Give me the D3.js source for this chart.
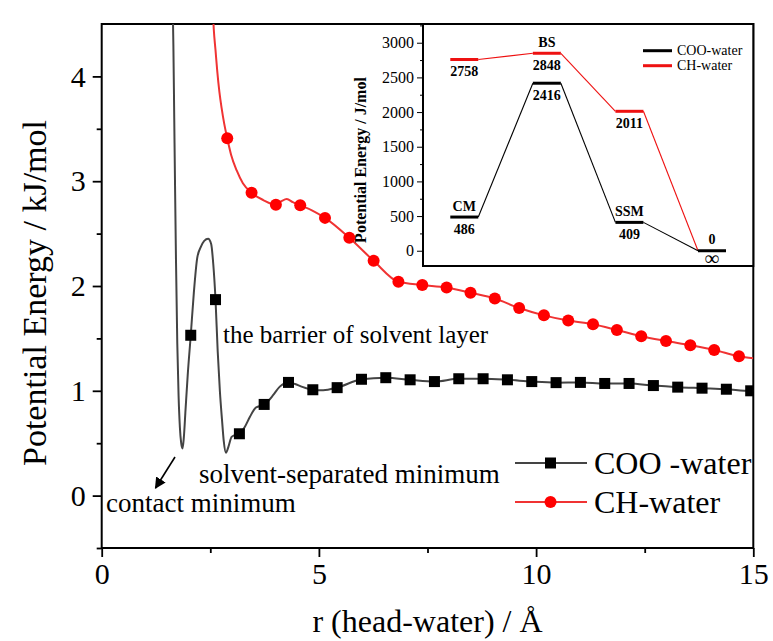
<!DOCTYPE html>
<html lang="en">
<head>
<meta charset="UTF-8">
<title>Potential Energy | D3</title>
<style>
  body { margin: 0; background: #fff; }
  svg { display: block; font-family: "Liberation Serif", "Times New Roman", serif; }
</style>
</head>
<body>
<div id="container"></div>
<script src="https://d3js.org/d3.v7.min.js"></script>
<script>
// main chart: COO-water curve (dense shape near the wells, then the marker points)
var cooLineR = [1.63, 1.65, 1.67, 1.69, 1.71, 1.74, 1.77, 1.80, 1.83, 1.86, 1.89, 1.93, 1.98, 2.05, 2.12, 2.20, 2.28, 2.36, 2.45, 2.52, 2.57, 2.62, 2.67, 2.72, 2.77, 2.81, 2.86, 2.92, 2.99, 3.08, 3.17, 3.30, 3.41, 3.55, 3.74, 3.85, 3.95, 4.10, 4.30, 4.45, 4.60, 4.86, 5.10, 5.42];
var cooLineE = [4.8, 4.3, 3.6, 2.9, 2.25, 1.45, 0.95, 0.65, 0.5, 0.45, 0.55, 0.82, 1.15, 1.53, 1.93, 2.27, 2.37, 2.43, 2.45, 2.40, 2.20, 1.87, 1.38, 1.0, 0.72, 0.52, 0.41, 0.47, 0.56, 0.58, 0.59, 0.66, 0.75, 0.84, 0.87, 0.91, 0.96, 1.04, 1.08, 1.065, 1.04, 1.01, 1.005, 1.03];
var cooMarkR = [2.05, 2.62, 3.17, 3.74, 4.30, 4.86, 5.42, 5.98, 6.54, 7.10, 7.66, 8.22, 8.78, 9.34, 9.90, 10.46, 11.02, 11.58, 12.14, 12.70, 13.26, 13.82, 14.38, 14.94];
var cooMarkE = [1.53, 1.87, 0.59, 0.87, 1.08, 1.01, 1.03, 1.11, 1.125, 1.105, 1.088, 1.115, 1.115, 1.105, 1.088, 1.078, 1.08, 1.07, 1.07, 1.05, 1.035, 1.025, 1.015, 1.0];

// CH-water curve
var chLineR = [2.55, 2.58, 2.62, 2.66, 2.71, 2.76, 2.82, 2.89, 2.98, 3.11, 3.25, 3.45, 3.72, 4.01, 4.14, 4.26, 4.40, 4.57, 4.85, 5.14];
var chLineE = [4.7, 4.45, 4.25, 4.05, 3.85, 3.70, 3.55, 3.41, 3.25, 3.10, 2.98, 2.89, 2.82, 2.775, 2.81, 2.83, 2.80, 2.77, 2.72, 2.65];
var chMarkR = [2.89, 3.45, 4.01, 4.57, 5.14, 5.70, 6.26, 6.83, 7.38, 7.94, 8.49, 9.05, 9.61, 10.18, 10.74, 11.31, 11.86, 12.42, 12.99, 13.55, 14.10, 14.67];
var chMarkE = [3.41, 2.89, 2.775, 2.77, 2.65, 2.46, 2.24, 2.04, 2.01, 1.985, 1.935, 1.88, 1.79, 1.72, 1.67, 1.635, 1.58, 1.52, 1.475, 1.435, 1.39, 1.33];
var chEndR = 15, chEndE = 1.31;

var xTickValues = [0, 5, 10, 15];
var xMinorTicks = [2.5, 7.5, 12.5];
var yTickValues = [0, 1, 2, 3, 4];
var yMinorTicks = [-0.5, 0.5, 1.5, 2.5, 3.5];

// inset: energy levels (J/mol)
var states = ["CM", "BS", "SSM", "inf"];
var stateNames = ["CM", "BS", "SSM", "0"];
var cooLevels = [486, 2416, 409, 0];
var chLevels = [2758, 2848, 2011, 0];
var cooLabels = ["486", "2416", "409", "\u221e"];
var chLabels = ["2758", "2848", "2011", null];
var nameOn = ["coo", "ch", "coo", "coo"];
var insetTicks = [0, 500, 1000, 1500, 2000, 2500, 3000];
var insetMinor = [250, 750, 1250, 1750, 2250, 2750, 3250];

var W = 773, H = 641;
var svg = d3.select("#container").append("svg")
    .attr("width", W).attr("height", H);

var m = { left: 101.7, right: 753.3, top: 24, bottom: 548 };
var x = d3.scaleLinear().domain([0, 15]).range([m.left, m.right]);
var y = d3.scaleLinear().domain([-0.5, 4.5]).range([m.bottom, m.top]);

svg.append("clipPath").attr("id", "plot-clip")
  .append("rect")
    .attr("x", m.left).attr("y", m.top)
    .attr("width", m.right - m.left).attr("height", m.bottom - m.top);

// axes: major + minor ticks
svg.append("g").attr("transform", "translate(0," + m.bottom + ")")
    .call(d3.axisBottom(x).tickValues(xTickValues).tickSize(9).tickPadding(6).tickFormat(d3.format("d")));
svg.append("g").attr("transform", "translate(0," + m.bottom + ")")
    .call(d3.axisBottom(x).tickValues(xMinorTicks).tickSize(5).tickFormat(""));
svg.append("g").attr("transform", "translate(" + m.left + ",0)")
    .call(d3.axisLeft(y).tickValues(yTickValues).tickSize(9).tickPadding(7).tickFormat(d3.format("d")));
svg.append("g").attr("transform", "translate(" + m.left + ",0)")
    .call(d3.axisLeft(y).tickValues(yMinorTicks).tickSize(5).tickFormat(""));

svg.selectAll(".domain").remove();
svg.selectAll(".tick line").attr("stroke", "#000").attr("stroke-width", 1.8);
svg.selectAll(".tick text")
    .attr("fill", "#000")
    .style("font-family", "Liberation Serif")
    .style("font-size", "30px");

// frame
svg.append("rect")
    .attr("x", m.left).attr("y", m.top)
    .attr("width", m.right - m.left).attr("height", m.bottom - m.top)
    .attr("fill", "none").attr("stroke", "#000").attr("stroke-width", 2);

// axis titles
svg.append("text")
    .attr("x", (m.left + m.right) / 2).attr("y", 632)
    .attr("text-anchor", "middle")
    .style("font-size", "32px")
    .text("r (head-water) / \u00c5");
svg.append("text")
    .attr("transform", "translate(46,293) rotate(-90)")
    .attr("text-anchor", "middle")
    .style("font-size", "34px")
    .text("Potential Energy / kJ/mol");

var line = d3.line().curve(d3.curveMonotoneX)
    .x(function(d) { return x(d[0]); })
    .y(function(d) { return y(d[1]); });

var cooPts = cooLineR.map(function(r, i) { return [r, cooLineE[i]]; });
cooMarkR.forEach(function(r, i) { if (r > 5.42) cooPts.push([r, cooMarkE[i]]); });
cooPts.push([15, 1.0]);

var chPts = chLineR.map(function(r, i) { return [r, chLineE[i]]; });
chMarkR.forEach(function(r, i) { if (r > 5.14) chPts.push([r, chMarkE[i]]); });
chPts.push([chEndR, chEndE]);

var plot = svg.append("g").attr("clip-path", "url(#plot-clip)");

plot.append("path").attr("d", line(cooPts))
    .attr("fill", "none").attr("stroke", "#444").attr("stroke-width", 2);
plot.append("path").attr("d", line(chPts))
    .attr("fill", "none").attr("stroke", "#f03333").attr("stroke-width", 2);

plot.selectAll("rect.coo").data(cooMarkR).enter().append("rect")
    .attr("class", "coo")
    .attr("x", function(d) { return x(d) - 5.5; })
    .attr("y", function(d, i) { return y(cooMarkE[i]) - 5.5; })
    .attr("width", 11).attr("height", 11)
    .attr("fill", "#000");
plot.selectAll("circle.ch").data(chMarkR).enter().append("circle")
    .attr("class", "ch")
    .attr("cx", function(d) { return x(d); })
    .attr("cy", function(d, i) { return y(chMarkE[i]); })
    .attr("r", 6)
    .attr("fill", "#ff0000");

// annotations
svg.append("text").attr("x", 223).attr("y", 334).attr("dominant-baseline", "central")
    .style("font-size", "25px").text("the barrier of solvent layer");
svg.append("text").attr("x", 199).attr("y", 474).attr("dominant-baseline", "central")
    .style("font-size", "27px").text("solvent-separated minimum");
svg.append("text").attr("x", 106).attr("y", 503).attr("dominant-baseline", "central")
    .style("font-size", "27px").text("contact minimum");

svg.append("defs").append("marker")
    .attr("id", "arrow").attr("viewBox", "0 0 10 10")
    .attr("refX", 9).attr("refY", 5)
    .attr("markerWidth", 7).attr("markerHeight", 7)
    .attr("orient", "auto")
  .append("path").attr("d", "M0,0 L10,5 L0,10 z").attr("fill", "#000");
svg.append("line")
    .attr("x1", 175).attr("y1", 457).attr("x2", 155.5).attr("y2", 488)
    .attr("stroke", "#000").attr("stroke-width", 1.6)
    .attr("marker-end", "url(#arrow)");

// main legend
var legend = svg.append("g");
[["COO -water", "#444", "square"], ["CH-water", "#f03333", "circle"]].forEach(function(d, i) {
    var ly = 463 + i * 39;
    legend.append("line").attr("x1", 515).attr("x2", 587).attr("y1", ly).attr("y2", ly)
        .attr("stroke", d[1]).attr("stroke-width", 2);
    if (d[2] === "square") {
        legend.append("rect").attr("x", 545).attr("y", ly - 5.5).attr("width", 11).attr("height", 11).attr("fill", "#000");
    } else {
        legend.append("circle").attr("cx", 550.5).attr("cy", ly).attr("r", 6).attr("fill", "#ff0000");
    }
    legend.append("text").attr("x", 594).attr("y", ly).attr("dominant-baseline", "central")
        .style("font-size", "32px").text(d[0]);
});

// ---- inset ----
var im = { left: 423, right: 753.3, top: 24, bottom: 266 };
var ix = d3.scalePoint().domain(states).range([im.left, im.right]).padding(0.5);
var iy = d3.scaleLinear().domain([-220, 3270]).range([im.bottom, im.top]);
var half = 14;

var inset = svg.append("g");
inset.append("rect")
    .attr("x", im.left).attr("y", im.top)
    .attr("width", im.right - im.left).attr("height", im.bottom - im.top)
    .attr("fill", "#fff").attr("stroke", "#000").attr("stroke-width", 2);

var iax = inset.append("g").attr("transform", "translate(" + im.left + ",0)")
    .call(d3.axisLeft(iy).tickValues(insetTicks).tickSize(6).tickPadding(3).tickFormat(d3.format("d")));
inset.append("g").attr("transform", "translate(" + im.left + ",0)")
    .call(d3.axisLeft(iy).tickValues(insetMinor).tickSize(3).tickFormat(""));
inset.selectAll(".domain").remove();
inset.selectAll(".tick line").attr("stroke", "#000").attr("stroke-width", 1);
iax.selectAll(".tick text")
    .attr("fill", "#000")
    .style("font-family", "Liberation Serif")
    .style("font-size", "16px");

inset.append("text")
    .attr("transform", "translate(366," + ((im.top + im.bottom) / 2 + 15) + ") rotate(-90)")
    .attr("text-anchor", "middle")
    .style("font-size", "16px").style("font-weight", "bold")
    .text("Potential Energy / J/mol");

function drawLevels(levels, color, skipLast) {
    var n = levels.length;
    for (var i = 0; i < n - 1; i++) {
        inset.append("line")
            .attr("x1", ix(states[i]) + half).attr("y1", iy(levels[i]))
            .attr("x2", ix(states[i + 1]) - half).attr("y2", iy(levels[i + 1]))
            .attr("stroke", color).attr("stroke-width", 1.1);
    }
    for (var j = 0; j < n; j++) {
        if (skipLast && j === n - 1) continue;
        inset.append("line")
            .attr("x1", ix(states[j]) - half).attr("x2", ix(states[j]) + half)
            .attr("y1", iy(levels[j])).attr("y2", iy(levels[j]))
            .attr("stroke", color).attr("stroke-width", 3);
    }
}
drawLevels(chLevels, "#ee1111", true);
drawLevels(cooLevels, "#000", false);

states.forEach(function(s, i) {
    var cx = ix(s);
    var isInf = cooLabels[i] === "\u221e";
    inset.append("text").attr("x", cx).attr("y", iy(cooLevels[i]) + (isInf ? 7 : 12))
        .attr("text-anchor", "middle").attr("dominant-baseline", "central")
        .style("font-size", isInf ? "20px" : "14px").style("font-weight", "bold")
        .text(cooLabels[i]);
    if (chLabels[i]) {
        inset.append("text").attr("x", cx).attr("y", iy(chLevels[i]) + 12)
            .attr("text-anchor", "middle").attr("dominant-baseline", "central")
            .style("font-size", "14px").style("font-weight", "bold")
            .text(chLabels[i]);
    }
    var base = nameOn[i] === "ch" ? chLevels[i] : cooLevels[i];
    inset.append("text").attr("x", cx).attr("y", iy(base) - 11)
        .attr("text-anchor", "middle").attr("dominant-baseline", "central")
        .style("font-size", "14px").style("font-weight", "bold")
        .text(stateNames[i]);
});

// inset legend
[["COO-water", "#000"], ["CH-water", "#ee1111"]].forEach(function(d, i) {
    var ly = 50.7 + i * 15;
    inset.append("line").attr("x1", 643).attr("x2", 672).attr("y1", ly).attr("y2", ly)
        .attr("stroke", d[1]).attr("stroke-width", 3);
    inset.append("text").attr("x", 677).attr("y", ly).attr("dominant-baseline", "central")
        .style("font-size", "14px").text(d[0]);
});
</script>
</body>
</html>
